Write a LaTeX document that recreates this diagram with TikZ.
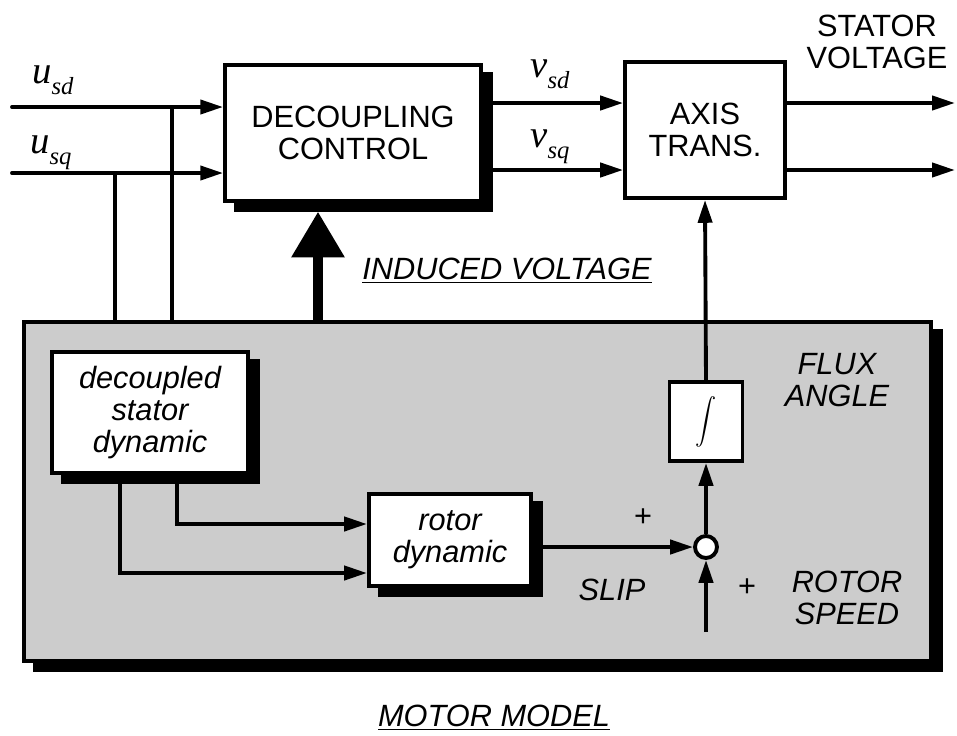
\documentclass[tikz,border=0pt]{standalone}
\usepackage{fontspec}
\setmainfont{Liberation Serif}
\setsansfont{Liberation Sans}
\usetikzlibrary{arrows.meta, positioning, shadows}
\newcommand\sigsub[1]{\raisebox{-0.3em}{\fontsize{14}{14}\selectfont #1}}

\begin{document}
\begin{tikzpicture}[x=0.02cm, y=-0.02cm,
    blk/.style={draw, fill=white, line width=2.2pt, font=\sffamily\fontsize{17.5}{18}\selectfont, align=center, inner sep=0pt},
    shblk/.style={blk, copy shadow={shadow xshift=6pt, shadow yshift=-5pt, fill=black, draw=black}},
    lbl/.style={font=\sffamily\fontsize{17.5}{18}\selectfont, align=center, inner sep=0pt},
    ilbl/.style={font=\sffamily\itshape\fontsize{17.5}{18}\selectfont, align=center, inner sep=0pt},
    sig/.style={font=\itshape\fontsize{22}{22}\selectfont, anchor=base west, inner sep=0pt},
    arr/.style={-{Triangle[length=13pt,width=8pt]}, line width=2.2pt},
    wire/.style={line width=2.2pt}
  ]
  \useasboundingbox (0,0) rectangle (957,735);

  \node (motor) [shblk, fill=black!20, minimum width=18.14cm, minimum height=6.78cm] at (477.5,491.5) {};
  \node (dec) [shblk, minimum width=5.12cm, minimum height=2.72cm] at (353,133) {DECOUPLING\\CONTROL};
  \node (axis) [blk, minimum width=3.2cm, minimum height=2.72cm] at (705,130) {AXIS\\TRANS.};
  \node (stator) [shblk, font=\sffamily\itshape\fontsize{17.5}{18}\selectfont, minimum width=3.92cm, minimum height=2.42cm] at (150,412.5) {decoupled\\stator\\dynamic};
  \node (rotor) [shblk, font=\sffamily\itshape\fontsize{17.5}{18}\selectfont, minimum width=3.24cm, minimum height=1.84cm] at (450,540) {rotor\\dynamic};
  \node (integ) [blk, minimum width=1.46cm, minimum height=1.58cm] at (706,421.5) {\scalebox{1.2}[1.3]{$\displaystyle\int$}};
  \node (sum) [draw, circle, fill=white, line width=2.2pt, minimum size=0.44cm, inner sep=0pt] at (706,547) {};

  \coordinate (usd) at (12,107);
  \coordinate (usq) at (12,173);
  \coordinate (tapd) at (172,107);
  \coordinate (tapq) at (115,173);
  \coordinate (vsd) at (490,103);
  \coordinate (vsq) at (490,170);
  \coordinate (ind) at (318,0);
  \coordinate (ra) at (367,524);
  \coordinate (rb) at (367,573);
  \coordinate (spd) at (706,632);

  \draw [arr, line cap=round] (usd) -- (usd -| dec.west);
  \draw [arr, line cap=round] (usq) -- (usq -| dec.west);
  \draw [wire] (tapd) -- (tapd |- motor.north);
  \draw [wire] (tapq) -- (tapq |- motor.north);
  \draw [arr] (vsd) -- (vsd -| axis.west);
  \draw [arr] (vsq) -- (vsq -| axis.west);
  \draw [arr] (vsd -| axis.east) -- ++(168,0);
  \draw [arr] (vsq -| axis.east) -- ++(168,0);
  \draw [line width=5.5pt, -{Triangle[length=26pt,width=29pt]}, shorten >=5pt] (ind |- motor.north) -- (ind |- dec.south);
  \draw [arr] (integ.north) -- (axis.south);
  \draw [arr] ([xshift=0.54cm]stator.south) |- (ra);
  \draw [arr] ([xshift=-0.6cm]stator.south) |- (rb);
  \draw [arr] (rotor.east |- sum) -- (sum.west);
  \draw [arr] (sum.north) -- (integ.south);
  \draw [arr] (spd) -- (sum.south);

  \node (lusd) [sig] at (32,83) {u\sigsub{sd}};
  \node (lusq) [sig] at (30,153) {u\sigsub{sq}};
  \node (lvsd) [sig] at (530,77) {v\sigsub{sd}};
  \node (lvsq) [sig] at (530,147) {v\sigsub{sq}};
  \node (lstat) [lbl] at (877,42) {STATOR\\VOLTAGE};
  \node (lind) [ilbl] at (507,271) {\underline{INDUCED VOLTAGE}};
  \node (lflux) [ilbl] at (837,380) {FLUX\\ANGLE};
  \node (lspeed) [ilbl] at (847,598) {ROTOR\\SPEED};
  \node (lslip) [ilbl] at (612,590) {SLIP};
  \node (lpa) [lbl] at (643,518) {+};
  \node (lpb) [lbl] at (747,588) {+};
  \node (lmotor) [ilbl] at (494,718) {\underline{MOTOR MODEL}};
\end{tikzpicture}
\end{document}
